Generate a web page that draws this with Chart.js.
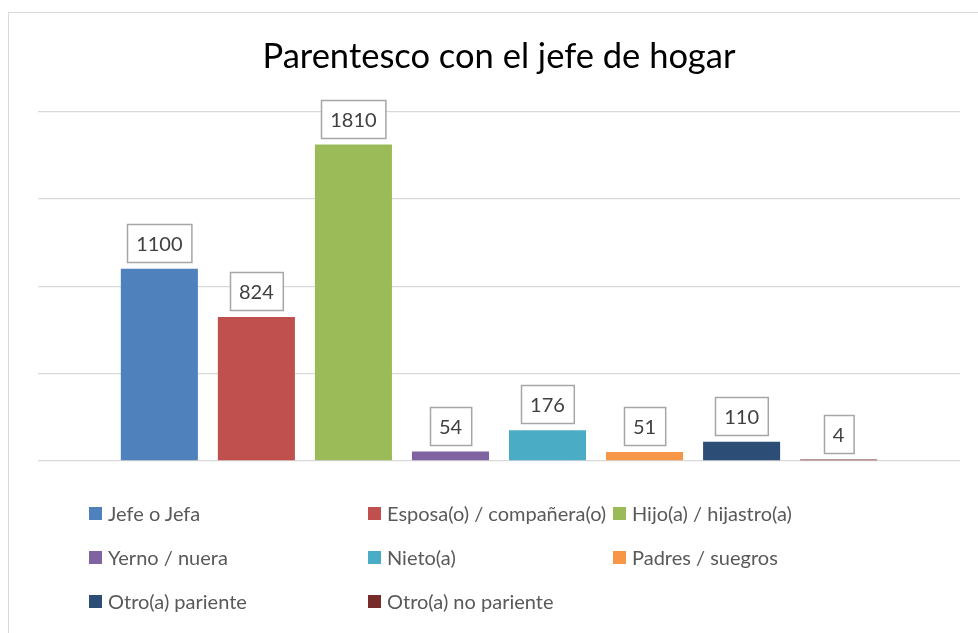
<!DOCTYPE html>
<html>
<head>
<meta charset="utf-8">
<script src="https://cdn.jsdelivr.net/npm/chart.js@4"></script>
<style>
    body { margin: 0; background: #fff; }
    #wrap { position: relative; width: 978px; height: 633px; overflow: hidden; background: #fff; }
    #frame { position: absolute; left: 8px; top: 12px; width: 1200px; height: 900px; border: 1px solid #d9d9d9; }
    #chart { position: absolute; left: 0; top: 0; }
    #legend {
        position: absolute; left: 89px; top: 491px;
        display: grid; grid-template-columns: 279px 245px 260px; grid-auto-rows: 44px;
        font-family: Lato, "Open Sans", sans-serif; font-size: 20px; color: #595959;
    }
    .item { display: flex; align-items: center; white-space: nowrap; }
    .swatch { width: 13px; height: 13px; margin-right: 6px; flex: none; }
</style>
</head>
<body>
<div id="wrap">
    <div id="frame"></div>
    <canvas id="chart" width="978" height="633"></canvas>
    <div id="legend"></div>
</div>
<script>
// Chart data
const categories = [
    'Jefe o Jefa',
    'Esposa(o) / compañera(o)',
    'Hijo(a) / hijastro(a)',
    'Yerno / nuera',
    'Nieto(a)',
    'Padres / suegros',
    'Otro(a) pariente',
    'Otro(a) no pariente'
];
const values = [1100, 824, 1810, 54, 176, 51, 110, 4];
const colors = ['#4f81bd', '#c0504d', '#9bbb59', '#8064a2', '#4bacc6', '#f79646', '#2c4d75', '#772c2a'];
const yTicks = [0, 500, 1000, 1500, 2000];

// Boxed value labels above each bar
const valueBoxes = {
    id: 'valueBoxes',
    afterDatasetsDraw(chart) {
        const ctx = chart.ctx;
        ctx.save();
        ctx.font = '20px Lato, "Open Sans", sans-serif';
        ctx.textAlign = 'center';
        ctx.textBaseline = 'middle';
        chart.data.datasets.forEach((ds, i) => {
            const bar = chart.getDatasetMeta(i).data[0];
            const text = String(ds.data[0]);
            const w = ctx.measureText(text).width + 18;
            const h = 38;
            const bottom = bar.y - 7;
            const left = Math.round(bar.x - w / 2) + 0.5;
            const top = Math.round(bottom - h) + 0.5;
            ctx.fillStyle = '#ffffff';
            ctx.fillRect(left, top, w, h);
            ctx.strokeStyle = '#a6a6a6';
            ctx.lineWidth = 1.5;
            ctx.strokeRect(left, top, w, h);
            ctx.fillStyle = '#404040';
            ctx.fillText(text, bar.x, top + h / 2 + 1);
        });
        ctx.restore();
    }
};

const datasets = categories.map((name, i) => ({
    label: name,
    data: [values[i]],
    backgroundColor: colors[i],
    borderWidth: 0,
    minBarLength: 1.5,
    categoryPercentage: 0.842,
    barPercentage: 0.794
}));

new Chart(document.getElementById('chart'), {
    type: 'bar',
    data: { labels: [''], datasets: datasets },
    options: {
        responsive: false,
        animation: false,
        layout: { padding: { left: 38, right: 18, top: 0, bottom: 172 } },
        scales: {
            x: {
                ticks: { display: false },
                grid: { display: false },
                border: { display: false },
                afterFit(scale) { scale.height = 0; }
            },
            y: {
                min: yTicks[0],
                max: yTicks[yTicks.length - 1],
                afterBuildTicks(scale) { scale.ticks = yTicks.map(v => ({ value: v })); },
                ticks: { display: false },
                grid: { color: '#d9d9d9', lineWidth: 1.3, drawTicks: false },
                border: { display: false },
                afterFit(scale) { scale.width = 0; }
            }
        },
        plugins: {
            legend: { display: false },
            tooltip: { enabled: false },
            title: {
                display: true,
                text: 'Parentesco con el jefe de hogar',
                color: '#000000',
                font: { family: 'Lato, "Open Sans", sans-serif', size: 34.5, weight: 'normal' },
                padding: { top: 36, bottom: 34 }
            }
        }
    },
    plugins: [valueBoxes]
});

// Legend laid out in three columns like the original
const legendEl = document.getElementById('legend');
categories.forEach((name, i) => {
    const item = document.createElement('div');
    item.className = 'item';
    item.innerHTML = `<span class="swatch" style="background:${colors[i]}"></span><span>${name}</span>`;
    legendEl.appendChild(item);
});
</script>
</body>
</html>
